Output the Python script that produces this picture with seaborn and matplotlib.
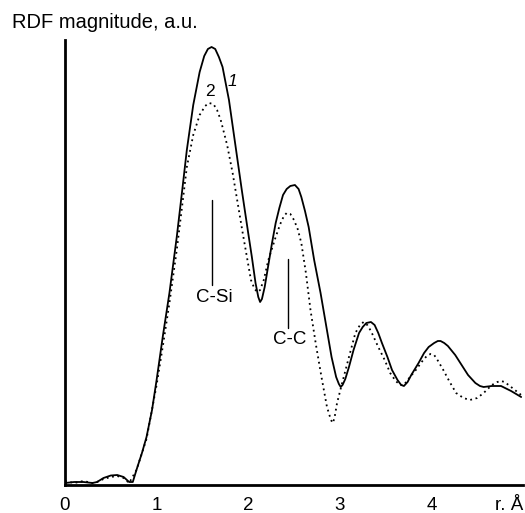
import numpy as np
import pandas as pd
import seaborn as sns
import matplotlib.pyplot as plt

# curve 1 (solid)
r1 = [0.0, 0.1, 0.2, 0.3, 0.35, 0.42, 0.5, 0.57, 0.64, 0.70, 0.74, 0.78, 0.84, 0.89, 0.95,
      1.0, 1.07, 1.14, 1.22, 1.28, 1.33, 1.40, 1.47, 1.52, 1.56, 1.60, 1.64, 1.68, 1.72,
      1.79, 1.86, 1.93, 2.00, 2.04, 2.08, 2.11, 2.13, 2.15, 2.18, 2.22, 2.26, 2.30, 2.34,
      2.38, 2.42, 2.46, 2.51, 2.55, 2.58, 2.62, 2.66, 2.72, 2.79, 2.85, 2.91, 2.96, 2.99,
      3.01, 3.03, 3.06, 3.10, 3.15, 3.21, 3.25, 3.29, 3.34, 3.38, 3.42, 3.46, 3.52, 3.57,
      3.63, 3.67, 3.70, 3.74, 3.78, 3.86, 3.92, 3.97, 4.03, 4.07, 4.10, 4.14, 4.18, 4.26,
      4.33, 4.40, 4.48, 4.53, 4.57, 4.66, 4.76, 4.87, 4.98]
g1 = [2, 3, 3, 2, 3, 7, 9.5, 10, 8, 3, 3, 15, 32, 48, 75,
      105, 150, 192, 248, 295, 335, 380, 413, 429, 436, 438, 436, 428, 418,
      385, 340, 295, 252, 228, 202, 188, 183, 186, 198, 220, 242, 262, 277,
      290, 296, 299, 300, 296, 288, 274, 258, 225, 192, 160, 128, 108, 101,
      98, 100, 106, 118, 135, 152, 158, 162, 163, 160, 152, 142, 128, 115,
      105, 100, 99, 103, 110, 122, 132, 138, 142, 144, 144, 142, 139, 130,
      120, 110, 102, 99, 98, 99, 99, 94, 88]

# curve 2 (dotted)
r2 = [0.0, 0.1, 0.2, 0.3, 0.35, 0.42, 0.5, 0.57, 0.64, 0.70, 0.78, 0.89, 1.0, 1.07, 1.14,
      1.22, 1.28, 1.33, 1.40, 1.47, 1.53, 1.57, 1.62, 1.66, 1.70, 1.77, 1.83, 1.94, 2.03,
      2.07, 2.10, 2.13, 2.17, 2.22, 2.30, 2.35, 2.39, 2.42, 2.46, 2.50, 2.54, 2.58, 2.63,
      2.68, 2.74, 2.80, 2.86, 2.90, 2.92, 2.94, 2.97, 3.02, 3.10, 3.17, 3.22, 3.26, 3.30,
      3.34, 3.42, 3.49, 3.55, 3.61, 3.66, 3.70, 3.74, 3.83, 3.91, 3.95, 3.99, 4.03, 4.06,
      4.13, 4.20, 4.27, 4.35, 4.42, 4.50, 4.57, 4.66, 4.72, 4.76, 4.80, 4.87, 4.98]
g2 = [4, 2, 4, 2, 3, 6, 8, 9, 7, 2, 15, 46, 100, 140, 182,
      235, 280, 318, 350, 370, 379, 382, 381, 375, 365, 340, 312, 252, 205,
      196, 193, 195, 205, 225, 248, 261, 269, 272, 271, 265, 256, 242, 212,
      175, 140, 108, 78, 66, 62, 66, 82, 100, 128, 152, 160, 163, 160,
      154, 138, 125, 112, 104, 100, 100, 105, 115, 125, 129, 131, 130, 126,
      115, 103, 92, 87, 85, 87, 92, 100, 103, 104, 103, 98, 90]

xticks = [0, 1, 2, 3, 4, 5]
xticklabels = ["0", "1", "2", "3", "4", "r. Å"]

df = pd.concat([
    pd.DataFrame({"r": r1, "g": g1, "curve": "1"}),
    pd.DataFrame({"r": r2, "g": g2, "curve": "2"}),
])

sns.set_style("white")
plt.rcParams["font.family"] = ["Liberation Sans", "DejaVu Sans"]
plt.rcParams["text.color"] = "black"
plt.rcParams["xtick.color"] = "black"

fig = plt.figure(figsize=(5.25, 5.13), dpi=100)
ax = fig.add_axes([65 / 525, 28 / 513, 458 / 525, 445 / 513])

sns.lineplot(data=df, x="r", y="g", style="curve", dashes={"1": "", "2": (1, 2)},
             color="black", linewidth=1.3, legend=False, sort=False, ax=ax)

ax.set_xlim(0, 5)
ax.set_ylim(0, 445)
ax.set_xlabel("")
ax.set_ylabel("")
ax.set_yticks([])
ax.set_xticks(xticks)
ax.set_xticklabels(xticklabels, fontsize=13.5, color="black")
ax.get_xticklabels()[-1].set_horizontalalignment("right")
ax.tick_params(axis="x", direction="in", length=6, width=1.5, pad=9, color="black")
for s in ["top", "right"]:
    ax.spines[s].set_visible(False)
for s in ["left", "bottom"]:
    ax.spines[s].set_linewidth(2)
    ax.spines[s].set_color("black")

# annotations
ax.text(1.83, 403, "1", fontsize=12.5, style="italic", ha="center", va="center", color="black")
ax.text(1.58, 393, "2", fontsize=12.5, ha="center", va="center", color="black")
ax.plot([1.61, 1.61], [200, 285], color="black", lw=1)
ax.text(1.63, 188, "C-Si", fontsize=13.5, ha="center", va="center", color="black")
ax.plot([2.43, 2.43], [157, 226], color="black", lw=1)
ax.text(2.45, 145, "C-C", fontsize=13.5, ha="center", va="center", color="black")

fig.text(12 / 525, 1 - 22 / 513, "RDF magnitude, a.u.", fontsize=14.5, va="center", ha="left",
         color="black")

fig.savefig("out.png", dpi=100)
